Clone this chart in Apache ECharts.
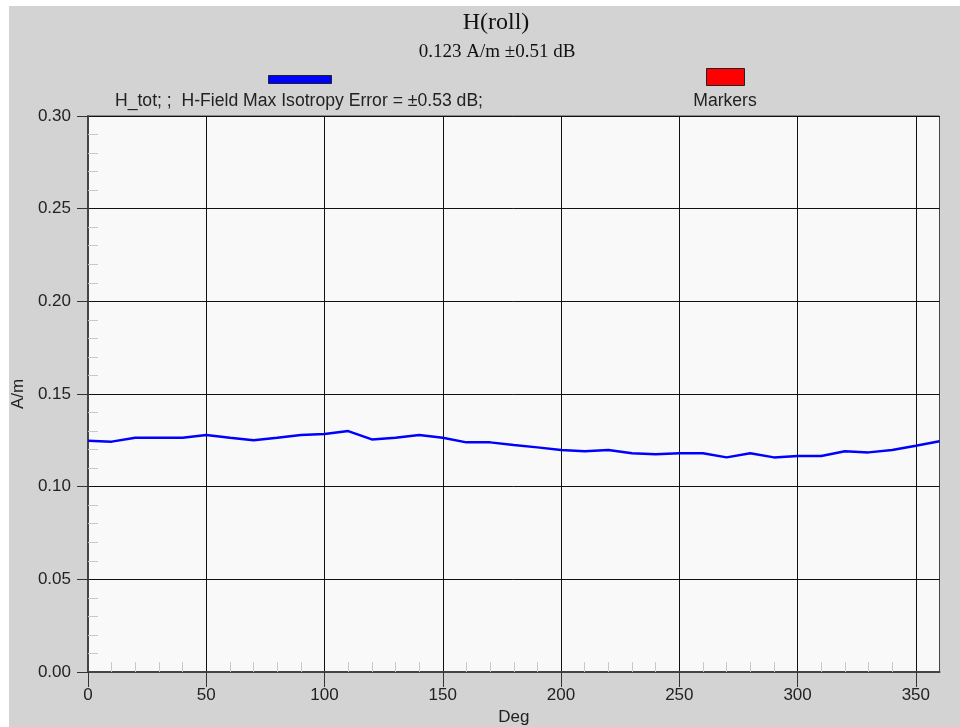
<!DOCTYPE html>
<html>
<head>
<meta charset="utf-8">
<script src="https://cdn.jsdelivr.net/npm/echarts@6/dist/echarts.min.js"></script>
<style>
html,body{margin:0;padding:0;background:#fff;}
#chart{width:960px;height:727px;}
</style>
</head>
<body>
<div id="chart"></div>
<script>
const degrees = [0,10,20,30,40,50,60,70,80,90,100,110,120,130,140,150,160,170,180,190,200,210,220,230,240,250,260,270,280,290,300,310,320,330,340,350,360];
const hTot = [0.1248,0.1243,0.1264,0.1264,0.1264,0.1279,0.1264,0.1250,0.1264,0.1279,0.1284,0.1300,0.1255,0.1264,0.1279,0.1264,0.1239,0.1239,0.1225,0.1212,0.1198,0.1191,0.1198,0.1180,0.1175,0.1180,0.1180,0.1158,0.1180,0.1158,0.1165,0.1165,0.1191,0.1185,0.1198,0.1221,0.1245];
const xTickLabels = [0,50,100,150,200,250,300,350];
const titleText = 'H(roll)';
const subtitleText = '0.123 A/m \u00b10.51 dB';
const legendMain = 'H_tot; ;  H-Field Max Isotropy Error = \u00b10.53 dB;';
const legendMarkers = 'Markers';

const sans = 'Liberation Sans, Arial, sans-serif';
const serif = 'Liberation Serif, Times New Roman, serif';
const chart = echarts.init(document.getElementById('chart'));
chart.setOption({
  backgroundColor: '#d3d3d3',
  animation: false,
  title: [
    {text: titleText, left: 491, top: 6, textAlign: 'center',
     textStyle: {fontFamily: serif, fontSize: 24, fontWeight: 'normal', color: '#111'}},
    {text: subtitleText, left: 492, top: 38, textAlign: 'center',
     textStyle: {fontFamily: serif, fontSize: 19, fontWeight: 'normal', color: '#111'}}
  ],
  graphic: [
    {type: 'rect', shape: {x: 0, y: 0, width: 960, height: 6}, style: {fill: '#fff'}, silent: true},
    {type: 'rect', shape: {x: 0, y: 0, width: 9, height: 727}, style: {fill: '#fff'}, silent: true},
    {type: 'rect', shape: {x: 268.5, y: 75.5, width: 63, height: 8}, style: {fill: '#0000ff', stroke: '#222', lineWidth: 1}},
    {type: 'rect', shape: {x: 706.5, y: 68.5, width: 38, height: 17}, style: {fill: '#ff0000', stroke: '#222', lineWidth: 1}},
    {type: 'text', x: 299, y: 101, style: {text: legendMain, font: '17.6px ' + sans, fill: '#222', align: 'center', verticalAlign: 'middle'}},
    {type: 'text', x: 725, y: 101, style: {text: legendMarkers, font: '17.6px ' + sans, fill: '#222', align: 'center', verticalAlign: 'middle'}}
  ],
  grid: {left: 88, top: 116, right: 20.5, bottom: 55, outerBoundsMode: 'none', containLabel: false,
         show: true, backgroundColor: '#f9f9f9', borderColor: '#444', borderWidth: 1},
  xAxis: {
    type: 'value', min: 0, max: 360, interval: 50,
    name: 'Deg', nameLocation: 'middle', nameGap: 37,
    nameTextStyle: {fontFamily: sans, fontSize: 17, color: '#222'},
    axisLine: {show: true, onZero: false, lineStyle: {color: '#444', width: 2}},
    axisTick: {show: true, length: 15, lineStyle: {color: '#333'}, customValues: xTickLabels},
    minorTick: {show: true, splitNumber: 5, length: -10, lineStyle: {color: '#c8c8c8', width: 1}},
    axisLabel: {fontFamily: sans, fontSize: 17, color: '#222', margin: 15, customValues: xTickLabels},
    splitLine: {show: true, lineStyle: {color: '#111', width: 1}}
  },
  yAxis: {
    type: 'value', min: 0, max: 0.3, interval: 0.05,
    name: 'A/m', nameLocation: 'middle', nameGap: 61, nameRotate: 90,
    nameTextStyle: {fontFamily: sans, fontSize: 17, color: '#222'},
    axisLine: {show: true, lineStyle: {color: '#444', width: 2}},
    axisTick: {show: true, length: 11, lineStyle: {color: '#333'}},
    minorTick: {show: true, splitNumber: 5, length: -10, lineStyle: {color: '#c8c8c8', width: 1}},
    axisLabel: {fontFamily: sans, fontSize: 17, color: '#222', margin: 17, formatter: v => v.toFixed(2)},
    splitLine: {show: true, lineStyle: {color: '#111', width: 1}}
  },
  series: [{
    type: 'line', name: 'H_tot',
    data: degrees.map((d, i) => [d, hTot[i]]),
    showSymbol: false, symbol: 'none',
    lineStyle: {color: '#0000ff', width: 2.5},
    itemStyle: {color: '#0000ff'}
  }]
});
</script>
</body>
</html>
